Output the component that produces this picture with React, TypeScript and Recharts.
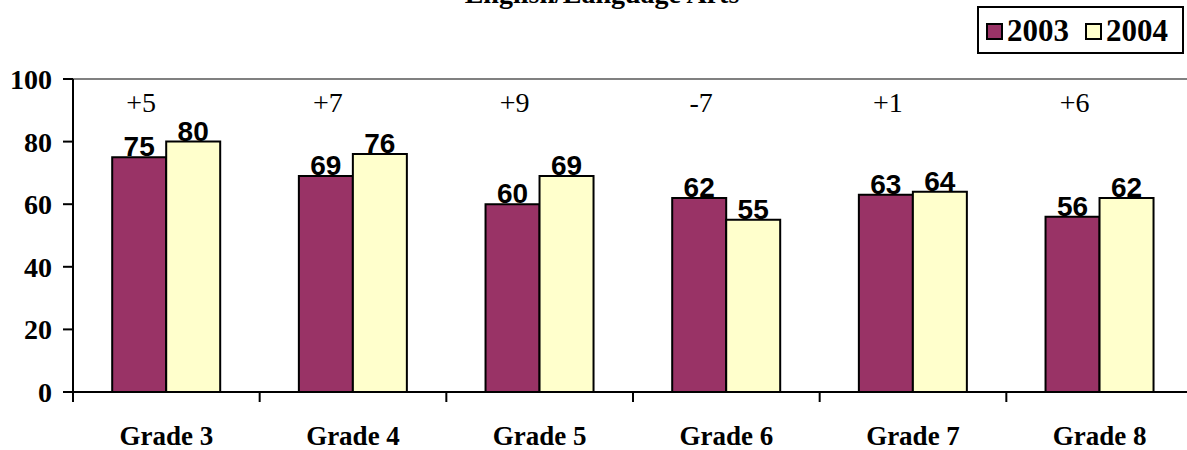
import React from "react";
import { BarChart, Bar, XAxis, YAxis, ReferenceLine, LabelList } from "recharts";

const categories = ["Grade 3", "Grade 4", "Grade 5", "Grade 6", "Grade 7", "Grade 8"];
const values2003 = [75, 69, 60, 62, 63, 56];
const values2004 = [80, 76, 69, 55, 64, 62];
const changeLabels = ["+5", "+7", "+9", "-7", "+1", "+6"];
const yTicks = [0, 20, 40, 60, 80, 100];
const seriesNames = ["2003", "2004"];
const title = "English/Language Arts";

const COLOR_2003 = "#993366";
const COLOR_2004 = "#FFFFCC";
const SERIF = "'Liberation Serif', 'Times New Roman', serif";
const SANS = "'Liberation Sans', Arial, sans-serif";

const data = categories.map((c, i) => ({
  grade: c,
  y2003: values2003[i],
  y2004: values2004[i],
  change: changeLabels[i],
}));

const XTick = (props: any) => {
  const { x, y, payload, index } = props;
  const half = payload && typeof payload.offset === "number" ? payload.offset : 93;
  return (
    <g>
      <line x1={x - half} x2={x - half} y1={y} y2={y + 10} stroke="#000" strokeWidth={2} />
      {index === categories.length - 1 ? (
        <line x1={x + half} x2={x + half} y1={y} y2={y + 10} stroke="#000" strokeWidth={2} />
      ) : null}
      <text x={x} y={y + 53} textAnchor="middle" fontFamily={SERIF} fontWeight="bold" fontSize={27} fill="#000">
        {payload.value}
      </text>
    </g>
  );
};

const ValueLabel = (props: any) => {
  const { x, y, width, value } = props;
  return (
    <text x={x + width / 2} y={y - 1} textAnchor="middle" fontFamily={SANS} fontWeight="bold" fontSize={28} fill="#000">
      {value}
    </text>
  );
};

const ChangeLabel = (props: any) => {
  const { x, y, width, height, value, index } = props;
  const bottom = y + height;
  const perUnit = value ? height / value : 0;
  const ty = bottom - 89.5 * perUnit;
  return (
    <text x={x + width / 2 + 2} y={ty} textAnchor="middle" fontFamily={SERIF} fontSize={28} fill="#000">
      {changeLabels[index]}
    </text>
  );
};

const LegendBox = () => (
  <div
    style={{
      position: "absolute",
      left: 977,
      top: 6,
      boxSizing: "border-box",
      width: 207,
      height: 48,
      border: "2px solid #000",
      background: "#fff",
      display: "flex",
      alignItems: "center",
      paddingLeft: 7,
      fontFamily: SERIF,
      fontWeight: "bold",
      fontSize: 31,
      lineHeight: "31px",
    }}
  >
    {seriesNames.map((n, i) => (
      <div key={n} style={{ display: "flex", alignItems: "center", marginRight: i === 0 ? 16 : 0 }}>
        <div
          style={{
            boxSizing: "border-box",
            width: 17,
            height: 17,
            border: "2px solid #000",
            background: i === 0 ? COLOR_2003 : COLOR_2004,
            marginRight: 4,
            marginTop: 2,
          }}
        />
        <span>{n}</span>
      </div>
    ))}
  </div>
);

export default function App() {
  return (
    <div style={{ position: "absolute", left: 0, top: 0, width: 1187, height: 450, overflow: "hidden", background: "#fff" }}>
      <svg style={{ position: "absolute", left: 0, top: 0 }} width={1187} height={20}>
        <text x={602} y={3} textAnchor="middle" fontFamily={SERIF} fontWeight="bold" fontSize={28} fill="#000">
          {title}
        </text>
      </svg>
      <div style={{ position: "absolute", left: 0, top: 0 }}>
        <BarChart
          width={1200}
          height={450}
          data={data}
          margin={{ top: 79, right: 7, bottom: 0, left: 0 }}
          barCategoryGap="21%"
          barGap={0}
        >
          <ReferenceLine y={100} stroke="#808080" strokeWidth={2} ifOverflow="extendDomain" />
          <XAxis
            dataKey="grade"
            axisLine={{ stroke: "#000", strokeWidth: 2 }}
            tickLine={false}
            tickSize={0}
            tickMargin={0}
            height={58}
            interval={0}
            tick={<XTick />}
          />
          <YAxis
            domain={[0, 100]}
            ticks={yTicks}
            width={73}
            axisLine={{ stroke: "#000", strokeWidth: 2 }}
            tickLine={{ stroke: "#000", strokeWidth: 2 }}
            tickSize={10}
            tickMargin={11}
            tick={{ fontFamily: SERIF, fontWeight: "bold", fontSize: 28, fill: "#000" }}
          />
          <Bar dataKey="y2003" name="2003" fill={COLOR_2003} stroke="#000" strokeWidth={2} isAnimationActive={false}>
            <LabelList dataKey="y2003" content={<ValueLabel />} />
            <LabelList dataKey="y2003" content={<ChangeLabel />} />
          </Bar>
          <Bar dataKey="y2004" name="2004" fill={COLOR_2004} stroke="#000" strokeWidth={2} isAnimationActive={false}>
            <LabelList dataKey="y2004" content={<ValueLabel />} />
          </Bar>
        </BarChart>
      </div>
      <LegendBox />
    </div>
  );
}
